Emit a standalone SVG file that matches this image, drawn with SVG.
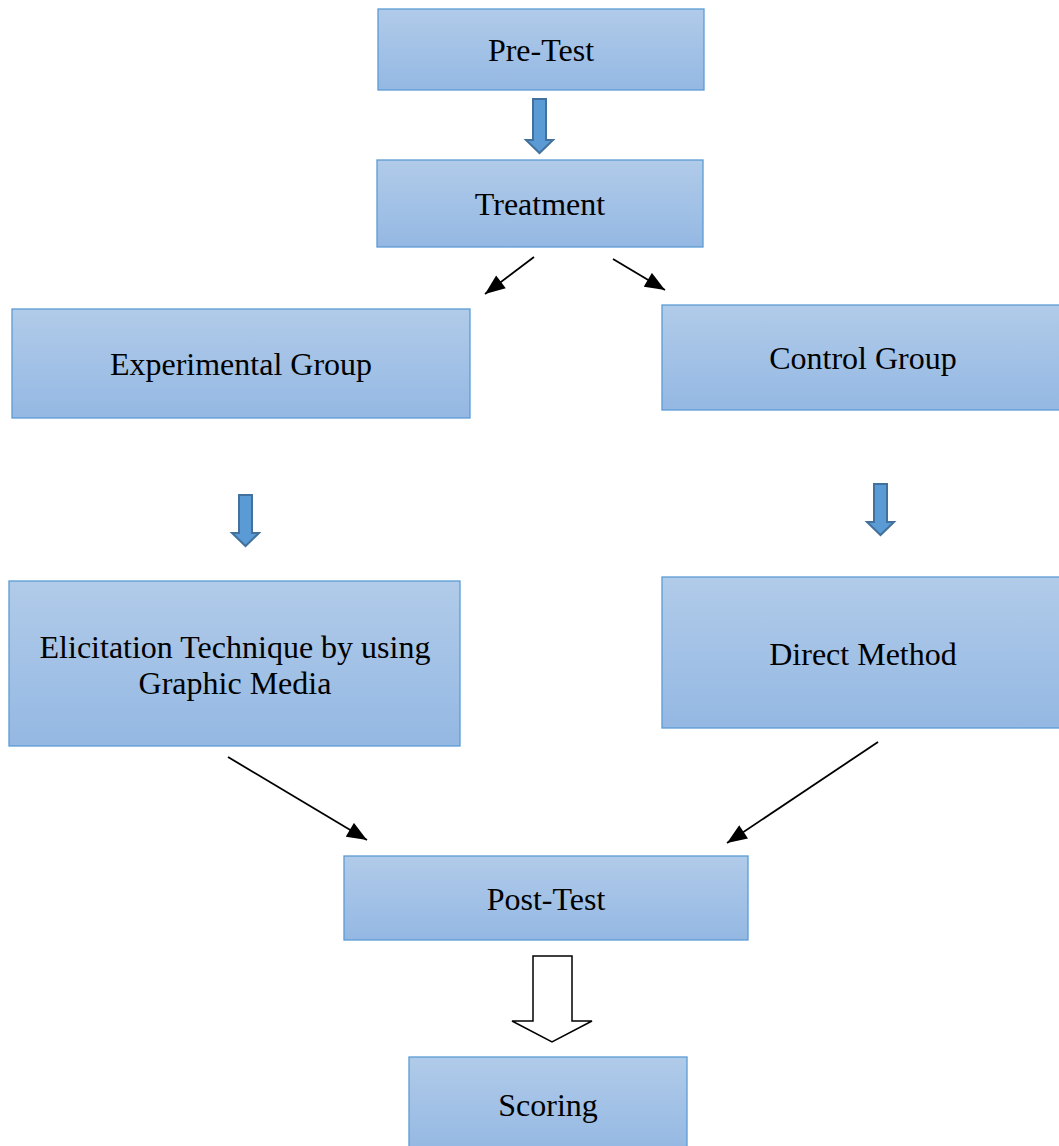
<svg xmlns="http://www.w3.org/2000/svg" width="1059" height="1146" viewBox="0 0 1059 1146">
<defs>
<linearGradient id="bg" x1="0" y1="0" x2="0" y2="1">
<stop offset="0" stop-color="#b1cbe9"/>
<stop offset="1" stop-color="#94b8e3"/>
</linearGradient>
<marker id="ah2" viewBox="0 0 10 8" refX="10" refY="4" markerWidth="21" markerHeight="16" orient="auto" markerUnits="userSpaceOnUse">
<path d="M0,0 L10,4 L0,8 Z" fill="#000"/>
</marker>
</defs>
<style>
.box{fill:url(#bg);stroke:#5b9bd5;stroke-width:1.3}
.t{font-family:"Liberation Serif","Times New Roman",serif;font-size:32px;fill:#000;text-anchor:middle}
.blk{fill:#5b9bd5;stroke:#41719c;stroke-width:2}
.ln{stroke:#000;stroke-width:1.8;fill:none;marker-end:url(#ah2)}
</style>
<rect width="1059" height="1146" fill="#fff"/>
<g id="pretest"><rect class="box" x="378" y="9" width="326" height="81"/><text class="t" x="541" y="61">Pre-Test</text></g>
<g id="treatment"><rect class="box" x="377" y="160" width="326" height="87"/><text class="t" x="540" y="215">Treatment</text></g>
<g id="experimental"><rect class="box" x="12" y="309" width="458" height="109"/><text class="t" x="241" y="375">Experimental Group</text></g>
<g id="control"><rect class="box" x="662" y="305" width="400" height="105"/><text class="t" x="863" y="369">Control Group</text></g>
<g id="elicitation"><rect class="box" x="9" y="581" width="451" height="165"/><text class="t" x="235" y="658">Elicitation Technique by using</text><text class="t" x="235" y="694">Graphic Media</text></g>
<g id="direct"><rect class="box" x="662" y="577" width="400" height="151"/><text class="t" x="863" y="665">Direct Method</text></g>
<g id="posttest"><rect class="box" x="344" y="856" width="404" height="84"/><text class="t" x="546" y="910">Post-Test</text></g>
<g id="scoring"><rect class="box" x="409" y="1057" width="278" height="95"/><text class="t" x="548" y="1116">Scoring</text></g>
<g id="connectors">
<path class="blk" d="M533,99 H546 V140 H553 L539.5,153 L526,140 H533 Z"/>
<path class="blk" d="M239,495 H252 V533 H259 L245.5,546 L232,533 H239 Z"/>
<path class="blk" d="M874,484 H887 V522 H894 L880.5,535 L867,522 H874 Z"/>
<path d="M533,956 H572 V1021 H592 L552,1042 L512,1021 H533 Z" fill="#fff" stroke="#000" stroke-width="1.5"/>
<line class="ln" x1="534" y1="257" x2="485" y2="294"/>
<line class="ln" x1="613" y1="259" x2="665" y2="290"/>
<line class="ln" x1="228" y1="757" x2="367" y2="840"/>
<line class="ln" x1="878" y1="742" x2="727" y2="843"/>
</g>
</svg>
